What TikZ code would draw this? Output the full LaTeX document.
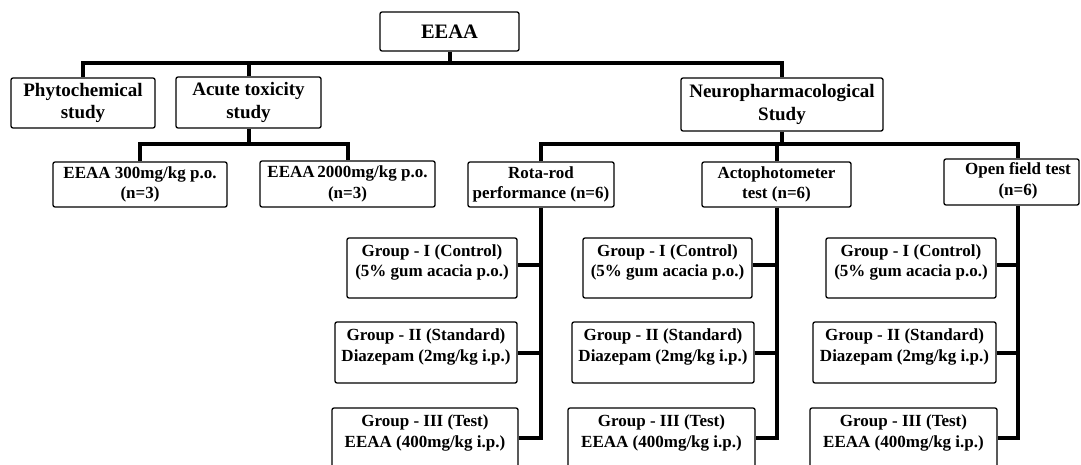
\documentclass[tikz,border=0pt]{standalone}
\usepackage{fontspec}
\setmainfont{Liberation Serif}
\begin{document}
\begin{tikzpicture}[x=1pt,y=-1pt,
  box/.style={draw, line width=1.3pt, rounded corners=2pt, inner sep=0pt,
    font=\bfseries\fontsize{17}{20.5}\selectfont, align=center},
  bigbox/.style={box, font=\bfseries\fontsize{19}{22.5}\selectfont},
  txt/.style={inner sep=0pt, font=\bfseries\fontsize{17}{20.5}\selectfont, align=center},
  conn/.style={line width=4pt}]
\useasboundingbox (0,0) rectangle (1081,465);
\clip (0,0) rectangle (1081,465);

% top level
\node[bigbox, font=\bfseries\fontsize{20.5}{24}\selectfont, minimum width=139, minimum height=39] (eeaa) at (449.5,31.5) {EEAA};
\node[bigbox, minimum width=144, minimum height=50] (phyto) at (83,103) {Phytochemical\\study};
\node[bigbox, minimum width=145, minimum height=51] (acute) at (248.5,102.5) {Acute toxicity\\study};
\node[bigbox, minimum width=202, minimum height=53] (neuro) at (782,104.5) {Neuropharmacological\\Study};

% second level
\node[box, minimum width=174, minimum height=45] (e300) at (140,184.5) {EEAA 300mg/kg p.o.\\(n=3)};
\node[box, minimum width=175, minimum height=46] (e2000) at (347.5,184) {EEAA\,2000mg/kg p.o.\\(n=3)};
\node[box, minimum width=146, minimum height=45] (rota) at (541,184.5) {Rota-rod\\performance (n=6)};
\node[box, minimum width=149, minimum height=45] (acto) at (776.5,184.5) {Actophotometer\\test (n=6)};
\node[box, minimum width=135, minimum height=46] (open) at (1011.5,182) {};
\node[txt] (opent) at (1018,181) {Open field test\\(n=6)};

% group boxes, column 1
\node[box, minimum width=170, minimum height=60] (g11) at (432,268) {};
\node[txt] (g11t) at (432,262.5) {Group - I (Control)\\(5\% gum acacia p.o.)};
\node[box, minimum width=182, minimum height=61] (g12) at (426,352.5) {};
\node[txt] (g12t) at (426,347) {Group - II (Standard)\\Diazepam (2mg/kg i.p.)};
\node[box, minimum width=186, minimum height=61] (g13) at (425,438.5) {};
\node[txt] (g13t) at (425,433) {Group - III (Test)\\EEAA (400mg/kg i.p.)};

% column 2
\node[box, minimum width=169, minimum height=60] (g21) at (667.5,268) {};
\node[txt] (g21t) at (667.5,262.5) {Group - I (Control)\\(5\% gum acacia p.o.)};
\node[box, minimum width=182, minimum height=61] (g22) at (663,352.5) {};
\node[txt] (g22t) at (663,347) {Group - II (Standard)\\Diazepam (2mg/kg i.p.)};
\node[box, minimum width=187, minimum height=61] (g23) at (661.5,438.5) {};
\node[txt] (g23t) at (661.5,433) {Group - III (Test)\\EEAA (400mg/kg i.p.)};

% column 3
\node[box, minimum width=170, minimum height=60] (g31) at (911,268) {};
\node[txt] (g31t) at (911,262.5) {Group - I (Control)\\(5\% gum acacia p.o.)};
\node[box, minimum width=183, minimum height=61] (g32) at (904.5,352.5) {};
\node[txt] (g32t) at (904.5,347) {Group - II (Standard)\\Diazepam (2mg/kg i.p.)};
\node[box, minimum width=187, minimum height=61] (g33) at (903.5,438.5) {};
\node[txt] (g33t) at (903.5,433) {Group - III (Test)\\EEAA (400mg/kg i.p.)};

% connectors: top bar
\coordinate (b0) at (449.5,63);
\draw[conn] (eeaa.south) -- (b0);
\draw[conn] (phyto.north) |- (b0) -| (neuro.north);
\draw[conn] (acute.north) -- (acute.north |- b0);

% acute toxicity branch
\coordinate (b1) at (248.5,144);
\draw[conn] (acute.south) -- (b1);
\draw[conn] (e300.north) |- (b1) -| (e2000.north);

% neuropharmacological branch
\coordinate (b2) at (782,144);
\coordinate (ofn) at (opent |- open.north);
\draw[conn] (neuro.south) -- (b2);
\draw[conn] (rota.north) |- (b2) -| (ofn);
\draw[conn] (acto.north) -- (acto.north |- b2);

% column trunks
\coordinate (ofs) at (opent |- open.south);
\draw[conn] (rota.south) |- ([yshift=0.5]g13.east);
\draw[conn] ([yshift=3]g11.east) -- ([yshift=3]g11.east -| rota.south);
\draw[conn] (g12.east) -- (g12.east -| rota.south);

\draw[conn] (acto.south) |- ([yshift=0.5]g23.east);
\draw[conn] ([yshift=3]g21.east) -- ([yshift=3]g21.east -| acto.south);
\draw[conn] (g22.east) -- (g22.east -| acto.south);

\draw[conn] (ofs) |- ([yshift=0.5]g33.east);
\draw[conn] ([yshift=3]g31.east) -- ([yshift=3]g31.east -| ofs);
\draw[conn] (g32.east) -- (g32.east -| ofs);
\end{tikzpicture}
\end{document}
